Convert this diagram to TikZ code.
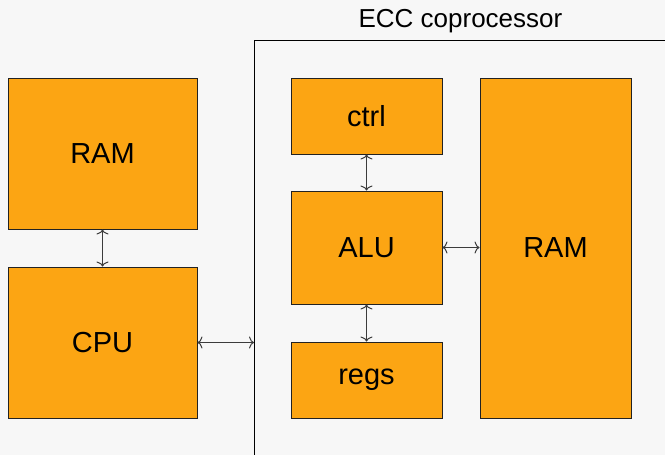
\documentclass[tikz,border=0pt]{standalone}
\usepackage{fontspec}
\setmainfont{Liberation Sans}
\usetikzlibrary{arrows.meta,calc}
\definecolor{bgc}{RGB}{247,247,247}
\definecolor{boxfill}{RGB}{252,165,19}
\definecolor{boxline}{RGB}{34,34,34}
\definecolor{arrc}{RGB}{60,60,60}
\tikzset{
  blockbox/.style={draw=boxline, fill=boxfill, line width=1pt, inner sep=0pt,
    font=\fontsize{29}{34}\selectfont, text=black},
  framebox/.style={draw=black, line width=1pt, inner sep=0pt},
  link/.style={{To[length=5pt,width=12pt]}-{To[length=5pt,width=12pt]}, draw=arrc, line width=1pt},
}
\begin{document}
\begin{tikzpicture}[x=1pt,y=-1pt]
\fill[bgc] (0,0) rectangle (665,455);
\clip (0,0) rectangle (665,455);
\node[framebox, minimum width=413pt, minimum height=440pt, anchor=north west] (ecc) at (254,40) {};
\node[anchor=base, font=\fontsize{26}{30}\selectfont] (title) at (460.5,27.7) {ECC coprocessor};
\node[blockbox, minimum width=189pt, minimum height=151pt] (ram1) at (102.5,153.5) {RAM};
\node[blockbox, minimum width=189pt, minimum height=151pt] (cpu) at (102.5,342.5) {CPU};
\node[blockbox, minimum width=151pt, minimum height=76pt] (ctrl) at (366.5,116) {ctrl};
\node[blockbox, minimum width=151pt, minimum height=113pt] (alu) at (366.5,247.5) {ALU};
\node[blockbox, minimum width=151pt, minimum height=76pt] (regs) at (366.5,380) {regs};
\node[blockbox, minimum width=151pt, minimum height=340pt] (ram2) at (555.5,248) {RAM};
\draw[link] (ram1.south) -- (cpu.north);
\draw[link] (cpu.east) -- (cpu.east -| ecc.west);
\draw[link] (ctrl.south) -- (alu.north);
\draw[link] (alu.south) -- (regs.north);
\draw[link] (alu.east) -- (alu.east -| ram2.west);
\end{tikzpicture}
\end{document}
